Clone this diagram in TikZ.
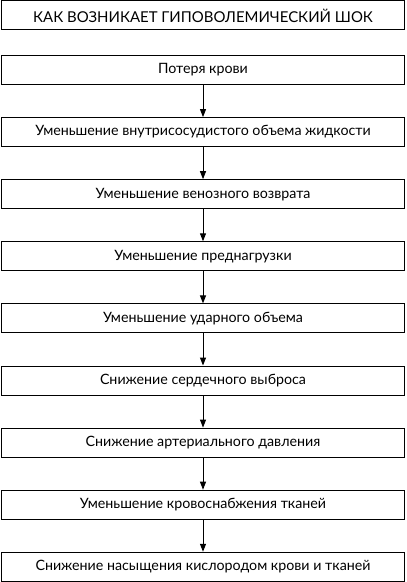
\documentclass[tikz,border=0pt]{standalone}
\usepackage{fontspec}
\setmainfont{Lato}
\usetikzlibrary{positioning,arrows.meta}

\begin{document}
\begin{tikzpicture}[
		x=1bp, y=1bp,
		stage/.style={rectangle, draw=black, line width=1bp, minimum width=403bp, minimum height=29bp, inner sep=0pt, font=\fontsize{14.3}{16}\selectfont},
		heading/.style={stage, font=\fontsize{15}{17}\selectfont},
		link/.style={-{Triangle[length=8bp,width=6bp]}, line width=1bp},
		node distance=32.1bp
	]
	\useasboundingbox (0,0) rectangle (406,-582);
	\node[heading] (title) at (203,-15.5) {КАК ВОЗНИКАЕТ ГИПОВОЛЕМИЧЕСКИЙ ШОК};
	\node[stage] (s1) [below=24.5bp of title] {Потеря крови};
	\node[stage] (s2) [below=of s1] {Уменьшение внутрисосудистого объема жидкости};
	\node[stage] (s3) [below=of s2] {Уменьшение венозного возврата};
	\node[stage] (s4) [below=of s3] {Уменьшение преднагрузки};
	\node[stage] (s5) [below=of s4] {Уменьшение ударного объема};
	\node[stage] (s6) [below=of s5] {Снижение сердечного выброса};
	\node[stage] (s7) [below=of s6] {Снижение артериального давления};
	\node[stage] (s8) [below=of s7] {Уменьшение кровоснабжения тканей};
	\node[stage] (s9) [below=of s8] {Снижение насыщения кислородом крови и тканей};

	\foreach \a/\b in {s1/s2, s2/s3, s3/s4, s4/s5, s5/s6, s6/s7, s7/s8, s8/s9}
		\draw[link] (\a) -- (\b);
\end{tikzpicture}
\end{document}
